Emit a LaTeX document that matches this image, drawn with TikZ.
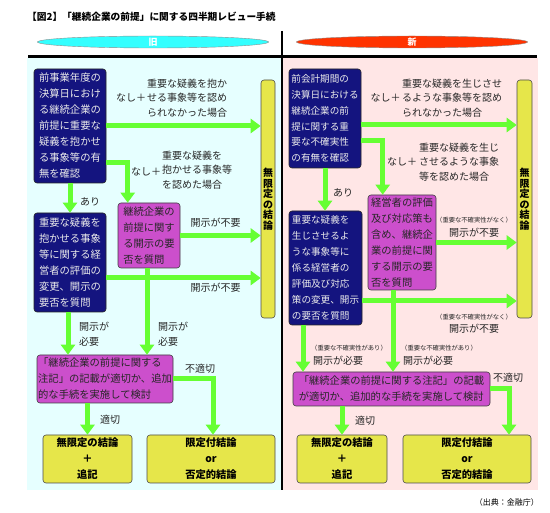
\documentclass[tikz,border=0pt]{standalone}
\usepackage{fontspec}
\setmainfont{Noto Sans CJK JP}
\usetikzlibrary{arrows.meta,shapes.geometric,calc}
\definecolor{garr}{HTML}{66FF33}
\definecolor{navyc}{HTML}{14147F}
\definecolor{pinkc}{HTML}{CC4FCC}
\definecolor{yelc}{HTML}{E6E64A}
\definecolor{cyanbg}{HTML}{E6FFFF}
\definecolor{pinkbg}{HTML}{FFE6E6}
\definecolor{cyanell}{HTML}{33FFFF}
\definecolor{redell}{HTML}{FF3300}
\begin{document}
\begin{tikzpicture}[x=1pt,y=-1pt,
 boxbase/.style={rounded corners=3pt, inner sep=0pt, line width=0.6pt},
 navybox/.style={boxbase, draw=black!85, fill=navyc, text=white!92!black, align=left, font=\fontsize{10.3}{16}\selectfont},
 pinkbox/.style={boxbase, draw=black!75, fill=pinkc, text=black!85, align=left, font=\fontsize{10.3}{16}\selectfont},
 yelbox/.style={boxbase, draw=black!70, fill=yelc, text=black, align=center, font=\bfseries\fontsize{10.3}{16}\selectfont},
 barbox/.style={boxbase, draw=black!70, fill=yelc, minimum width=14pt, minimum height=238pt},
 bartext/.style={inner sep=0pt, align=center, font=\bfseries\fontsize{10}{10.5}\selectfont},
 lbl/.style={inner sep=0pt, align=left, font=\fontsize{10}{14.5}\selectfont, text=black!85},
 smalllbl/.style={inner sep=0pt, align=left, font=\fontsize{6.3}{8}\selectfont, text=black!85},
 garrow/.style={draw=garr, line width=5pt, -{Triangle[width=14pt,length=10pt]}},
 ell/.style={ellipse, draw=black!45, minimum width=231pt, minimum height=12pt, inner sep=0pt, text=white, font=\bfseries\fontsize{9}{9}\selectfont},
]
\useasboundingbox (0,0) rectangle (550,513);
% backgrounds
\fill[cyanbg] (27,58) rectangle (282,490);
\fill[pinkbg] (282,58) rectangle (538,490);
\draw[black, line width=1.2pt] (282,31) -- (282,490);
\draw[black, line width=3pt] (28,57) -- (537,57);
% title
\node[anchor=west, inner sep=0pt, font=\bfseries\fontsize{9.7}{10}\selectfont] (title) at (27,17) {【図2】「継続企業の前提」に関する四半期レビュー手続};
\node[ell, fill=cyanell] (old) at (153,42) {旧};
\node[ell, fill=redell] (new) at (412,42) {新};

% ---------- left ----------
\node[navybox, minimum width=72pt, minimum height=114pt] (A1) at (70,126)
 {前事業年度の\\決算日におけ\\る継続企業の\\前提に重要な\\疑義を抱かせ\\る事象等の有\\無を確認};
\node[navybox, minimum width=72pt, minimum height=99pt] (A2) at (70,262.5)
 {重要な疑義を\\抱かせる事象\\等に関する経\\営者の評価の\\変更、開示の\\要否を質問};
\node[pinkbox, minimum width=62pt, minimum height=65pt] (P1) at (149,235.5)
 {継続企業の\\前提に関す\\る開示の要\\否を質問};
\node[pinkbox, minimum width=136pt, minimum height=48pt, font=\fontsize{10.3}{16}\selectfont] (P2) at (105,379)
 {「継続企業の前提に関する\\注記」の記載が適切か、追加\\的な手続を実施して検討};
\node[yelbox, minimum width=89pt, minimum height=48pt] (Y1) at (87.5,459) {無限定の結論\\＋\\追記};
\node[yelbox, minimum width=128pt, minimum height=48pt] (Y2) at (211,459) {限定付結論\\or\\否定的結論};
\node[barbox] (barL) at (268,199) {};
\node[bartext] (barLt) at (268,199) {無\\限\\定\\の\\結\\論};

\draw[garrow] (A1.east) -- (A1.east -| barL.west);
\draw[garrow] ([yshift=-37pt]A1.east) -| ([xshift=10pt]P1.north west);
\draw[garrow] (A1.south) -- (A2.north);
\draw[garrow] (P1.east) -- (P1.east -| barL.west);
\draw[garrow] ([yshift=-15.5pt]A2.east) -- ([yshift=-15.5pt]A2.east -| barL.west);
\draw[garrow] ([xshift=-2pt]A2.south) -- ([xshift=-2pt]A2.south |- P2.north);
\draw[garrow] ([xshift=-2pt]P1.south) -- ([xshift=-2pt]P1.south |- P2.north);
\draw[garrow] (P2.east) -| ([xshift=2pt]Y2.north);
\draw[garrow] (Y1.north |- P2.south) -- (Y1.north);

\node[lbl] (l1a) at (131,98) {なし＋};
\node[lbl, anchor=west] (l1b) at (147,98) {重要な疑義を抱か\\せる事象等を認め\\られなかった場合};
\node[lbl] (l2a) at (146,172) {なし＋};
\node[lbl, anchor=west] (l2b) at (162,170) {重要な疑義を\\抱かせる事象等\\を認めた場合};
\node[lbl] (l3) at (90,202) {あり};
\node[lbl] (l4) at (215.5,223) {開示が不要};
\node[lbl] (l5) at (215.5,288) {開示が不要};
\node[lbl, anchor=west] (l6) at (79,334) {開示が\\必要};
\node[lbl, anchor=west] (l7) at (158,334) {開示が\\必要};
\node[lbl] (l8) at (200,369) {不適切};
\node[lbl] (l9) at (110,420) {適切};

% ---------- right ----------
\node[navybox, minimum width=72pt, minimum height=99pt, font=\fontsize{9.6}{15.8}\selectfont] (B1) at (325,118.5)
 {前会計期間の\\決算日における\\継続企業の前\\提に関する重\\要な不確実性\\の有無を確認};
\node[navybox, minimum width=73pt, minimum height=114pt, font=\fontsize{9.6}{16}\selectfont] (B2) at (325.5,268)
 {重要な疑義を\\生じさせるよ\\うな事象等に\\係る経営者の\\評価及び対応\\策の変更、開示\\の要否を質問};
\node[pinkbox, minimum width=68pt, minimum height=95pt] (P3) at (402,242.5)
 {経営者の評価\\及び対応策も\\含め、継続企\\業の前提に関\\する開示の要\\否を質問};
\node[pinkbox, minimum width=197pt, minimum height=34pt] (P4) at (391.5,389)
 {「継続企業の前提に関する注記」の記載\\が適切か、追加的な手続を実施して検討};
\node[yelbox, minimum width=90pt, minimum height=48pt] (Y3) at (342,459) {無限定の結論\\＋\\追記};
\node[yelbox, minimum width=128pt, minimum height=48pt] (Y4) at (467,459) {限定付結論\\or\\否定的結論};
\node[barbox, minimum width=15pt] (barR) at (524.5,199) {};
\node[bartext] (barRt) at (524.5,199) {無\\限\\定\\の\\結\\論};

\draw[garrow] ([yshift=-6.5pt]B1.east) -- ([yshift=-6.5pt]B1.east -| barR.west);
\draw[garrow] ([yshift=-22.5pt]B1.east) -| ([xshift=15pt]P3.north west);
\draw[garrow] (B1.south) -- (B1.south |- B2.north);
\draw[garrow] (P3.east) -- (P3.east -| barR.west);
\draw[garrow] ([yshift=-33pt]B2.east) -- ([yshift=-33pt]B2.east -| barR.west);
\draw[garrow] ([xshift=-22.5pt]B2.south) -- ([xshift=-22.5pt]B2.south |- P4.north);
\draw[garrow] ([xshift=-9pt]P3.south) -- ([xshift=-9pt]P3.south |- P4.north);
\draw[garrow] (P4.east) -| ([xshift=42pt]Y4.north);
\draw[garrow] (Y3.north |- P4.south) -- (Y3.north);

\node[lbl] (r1a) at (385.5,98) {なし＋};
\node[lbl, anchor=west] (r1b) at (402,98) {重要な疑義を生じさせ\\るような事象等を認め\\られなかった場合};
\node[lbl] (r2a) at (402,162) {なし＋};
\node[lbl, anchor=west] (r2b) at (419,162) {重要な疑義を生じ\\させるような事象\\等を認めた場合};
\node[lbl] (r3) at (343,193) {あり};
\node[smalllbl] (r4s) at (474,220) {（重要な不確実性がなく）};
\node[lbl] (r4) at (474,233) {開示が不要};
\node[smalllbl] (r5s) at (474,317) {（重要な不確実性がなく）};
\node[lbl] (r5) at (474,329) {開示が不要};
\node[smalllbl, anchor=west] (r6s) at (311,348) {（重要な不確実性があり）};
\node[lbl, anchor=west] (r6) at (313,361) {開示が必要};
\node[smalllbl, anchor=west] (r7s) at (401,348) {（重要な不確実性があり）};
\node[lbl, anchor=west] (r7) at (403,361) {開示が必要};
\node[lbl] (r8) at (508,378) {不適切};
\node[lbl] (r9) at (365,421) {適切};

\node[anchor=east, inner sep=0pt, font=\fontsize{8}{9}\selectfont] (src) at (539,502) {（出典：金融庁）};
\end{tikzpicture}
\end{document}
